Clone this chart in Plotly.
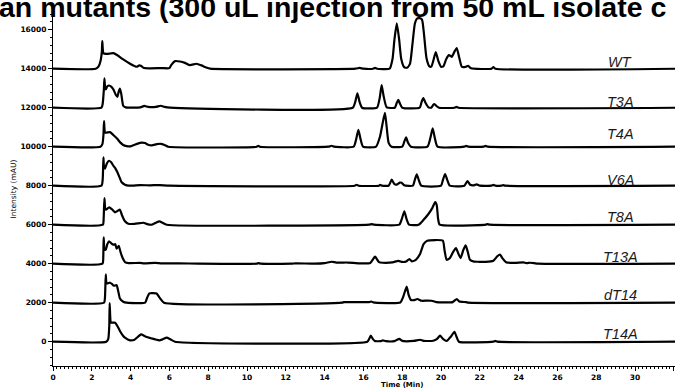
import plotly.graph_objects as go

# Stacked HPLC chromatograms: retention time (min) and detector intensity (mAU)
# relative to each trace's own baseline.
samples = ["WT", "T3A", "T4A", "V6A", "T8A", "T13A", "dT14", "T14A"]
offsets = [14000, 12000, 10000, 8000, 6000, 4000, 2000, 0]
label_lift = [360, 300, 650, 290, 370, 340, 380, 420]

WT_t = [0, 2.2, 2.35, 2.45, 2.52, 2.54, 2.6, 2.75, 2.95, 3.11, 3.3, 3.62, 3.97, 4.31, 4.45, 4.55, 4.66, 5.0, 5.6, 6.0, 6.1, 6.29, 6.55, 6.8, 7.06, 7.4, 7.65, 7.9, 8.1,
        15.6, 15.8, 16.0, 16.5, 16.6, 16.7,
        17.35, 17.5, 17.6, 17.72, 17.84, 17.95, 18.1, 18.25, 18.4, 18.52, 18.65, 18.75, 18.9, 19.02, 19.12, 19.25, 19.4, 19.5, 19.6, 19.73, 19.86, 20.0, 20.12, 20.27, 20.41, 20.55, 20.68, 20.81, 20.93, 21.07, 21.25, 21.4, 21.55, 22.6, 22.7, 22.8, 32.2]
WT_i = [0, 0, 120, 400, 900, 1415, 790, 760, 780, 800, 700, 475, 255, 100, 170, 140, 50, 20, 30, 30, 200, 390, 370, 300, 185, 255, 170, 60, 0,
        0, 40, 0, 0, 40, 0,
        0, 500, 1500, 2320, 1500, 500, 80, 50, 250, 1200, 2300, 2560, 2590, 2520, 1800, 550, 120, 110, 400, 850, 400, 100, 120, 500, 700, 610, 850, 1060, 600, 100, 90, 150, 20, 0, 80, 0, 0]

T3A_t = [0, 2.5, 2.56, 2.62, 2.65, 2.69, 2.72, 2.8, 2.89, 3.0, 3.11, 3.25, 3.32, 3.38, 3.45, 3.52, 3.62, 3.75, 4.5, 4.71, 4.9, 5.3, 5.55, 5.75, 6.03,
         15.45, 15.58, 15.69, 15.8, 15.93, 16.7, 16.84, 16.94, 17.04, 17.2, 17.62, 17.72, 17.8, 17.88, 18.0, 18.9, 19.0, 19.09, 19.2, 19.35, 19.5, 19.6, 19.66, 19.75, 19.9, 20.7, 20.8, 20.9, 32.2]
T3A_i = [0, 0, 200, 900, 1500, 1000, 940, 1100, 1140, 1080, 940, 640, 560, 800, 975, 700, 100, 20, 20, 90, 40, 40, 100, 40, 0,
         0, 300, 740, 300, 0, 0, 500, 1160, 600, 20, 0, 250, 400, 220, 0, 0, 300, 490, 250, 20, 0, 150, 190, 100, 0, 0, 40, 0, 0]

T4A_t = [0, 2.45, 2.55, 2.6, 2.63, 2.68, 2.75, 2.94, 3.11, 3.3, 3.45, 3.6, 3.8, 4.0, 4.2, 4.48, 4.74, 4.9, 5.09, 5.35, 5.55, 5.75, 5.94, 10.5, 10.58, 10.66, 14.2, 14.36, 14.5,
         15.5, 15.63, 15.74, 15.85, 15.98, 16.65, 16.85, 17.0, 17.11, 17.2, 17.3, 17.45, 18.0, 18.12, 18.2, 18.3, 18.45, 19.3, 19.45, 19.57, 19.68, 19.82, 21.2, 21.3, 21.4, 22.2, 22.3, 22.4, 32.2]
T4A_i = [0, 0, 150, 600, 1310, 730, 720, 750, 600, 420, 235, 100, 30, 20, 100, 200, 190, 100, 70, 130, 150, 90, 0, 0, 50, 0, 0, 50, 0,
         0, 400, 870, 400, 0, 0, 500, 1250, 1730, 1000, 200, 0, 0, 300, 480, 200, 0, 0, 450, 940, 450, 0, 0, 40, 0, 0, 40, 0, 0]

V6A_t = [0, 2.5, 2.56, 2.6, 2.63, 2.68, 2.78, 2.89, 3.0, 3.11, 3.22, 3.32, 3.45, 3.54, 3.71, 3.9, 4.5, 5.0, 5.5, 6.0,
         15.55, 15.65, 15.75, 16.8, 16.86, 16.95, 17.3, 17.46, 17.6, 17.75, 17.88, 17.97, 18.1, 18.55, 18.65, 18.75, 18.85, 18.98, 20.0, 20.1, 20.21, 20.32, 20.45,
         21.2, 21.36, 21.5, 21.7, 21.84, 22.0, 22.6, 22.7, 22.8, 23.1, 23.2, 23.3, 32.2]
V6A_i = [0, 0, 300, 1450, 950, 880, 1150, 1280, 1200, 1025, 880, 690, 380, 175, 50, 0, 30, 20, 30, 0,
         0, 50, 0, 0, 40, 0, 0, 310, 80, 70, 160, 150, 20, 0, 300, 585, 300, 0, 0, 300, 600, 300, 0,
         0, 240, 50, 20, 70, 0, 0, 40, 0, 0, 30, 0, 0]

T8A_t = [0, 2.57, 2.61, 2.65, 2.7, 2.75, 2.89, 3.05, 3.2, 3.32, 3.45, 3.55, 3.71, 3.88, 4.2, 4.66, 4.85, 5.1, 5.3, 5.48, 5.65, 5.86,
         16.3, 16.42, 16.55, 17.85, 17.98, 18.11, 18.22, 18.35, 18.85, 19.1, 19.35, 19.55, 19.7, 19.78, 19.85, 19.93, 22.3, 22.4, 22.5, 32.2]
T8A_i = [0, 0, 300, 1370, 790, 780, 890, 780, 635, 700, 770, 500, 175, 50, 40, 100, 30, 0, 100, 175, 100, 0,
         0, 30, 0, 0, 300, 685, 300, 0, 0, 250, 550, 850, 1165, 1000, 300, 0, 0, 30, 0, 0]

T13A_t = [0, 2.55, 2.59, 2.61, 2.66, 2.72, 2.8, 2.89, 3.0, 3.11, 3.21, 3.28, 3.34, 3.39, 3.48, 3.59, 3.71, 3.9, 4.48, 4.7, 5.26, 5.6, 6.5, 7.5, 10.5, 10.6, 10.7, 12.3, 12.5, 13.5, 14.0, 14.36, 14.6, 15.2, 15.8,
          16.35, 16.6, 16.8, 17.0, 17.5, 17.8, 18.0, 18.2, 18.37, 18.5, 18.7, 18.92, 19.1, 19.29, 20.09, 20.18, 20.29, 20.45, 20.65, 20.77, 20.9, 21.01, 21.15, 21.27, 21.38, 21.49,
          21.7, 21.92, 22.3, 22.7, 22.9, 23.04, 23.15, 23.35, 23.8, 24.24, 24.4, 24.59, 24.8, 25.0, 32.2]
T13A_i = [0, 0, 300, 1350, 730, 720, 1000, 1150, 1050, 975, 1000, 770, 850, 920, 600, 290, 85, 30, 40, 20, 40, 20, 20, 0, 0, 30, 0, 0, 20, 0, 30, 100, 60, 60, 20,
          40, 360, 80, 50, 70, 150, 90, 110, 240, 120, 200, 500, 1000, 1180, 1180, 700, 200, 280, 650, 800, 500, 290, 700, 940, 600, 200,
          110, 100, 90, 150, 380, 470, 300, 80, 40, 70, 30, 50, 30, 0, 0]

dT14_t = [0, 2.63, 2.68, 2.72, 2.76, 2.85, 2.94, 3.05, 3.14, 3.28, 3.36, 3.45, 3.62, 3.8, 4.75, 4.85, 4.97, 5.15, 5.34, 5.5, 5.72,
          14.9, 15.0, 16.3, 16.4, 16.5, 17.9, 18.05, 18.23, 18.33, 18.45, 18.6, 18.78, 19.0, 19.3, 19.52, 19.75, 20.6, 20.81, 20.95, 21.1, 21.3, 21.4, 32.2]
dT14_i = [0, 0, 300, 1450, 990, 1000, 1025, 950, 870, 900, 600, 220, 50, 0, 0, 250, 480, 490, 470, 250, 0,
          0, 30, 30, 60, 20, 10, 300, 820, 400, 140, 130, 190, 100, 110, 100, 30, 30, 190, 60, 40, 30, 0, 0]

T14A_t = [0, 2.75, 2.85, 2.9, 2.92, 2.96, 2.99, 3.2, 3.35, 3.45, 3.6, 3.71, 3.97, 4.2, 4.54, 4.7, 4.83, 5.05, 5.26, 5.48, 5.65, 5.86, 6.05, 6.29,
          16.2, 16.3, 16.38, 16.5, 16.6, 16.9, 17.0, 17.15, 17.6, 17.85, 18.0, 18.6, 18.92, 19.1, 19.6, 19.8, 19.95, 20.1, 20.29, 20.5, 20.69, 20.82, 20.92, 22.7, 22.8, 22.9, 32.2]
T14A_i = [0, 0, 150, 800, 1985, 1100, 975, 975, 750, 550, 320, 205, 70, 100, 375, 300, 240, 180, 120, 70, 120, 205, 120, 0,
          0, 150, 310, 120, 30, 30, 70, 30, 30, 140, 40, 40, 100, 40, 50, 150, 310, 150, 35, 250, 510, 200, 0, 0, 40, 0, 0]

times = [WT_t, T3A_t, T4A_t, V6A_t, T8A_t, T13A_t, dT14_t, T14A_t]
intens = [WT_i, T3A_i, T4A_i, V6A_i, T8A_i, T13A_i, dT14_i, T14A_i]

fig = go.Figure()
for name, t, i, off in zip(samples, times, intens, offsets):
    fig.add_trace(go.Scatter(
        x=t, y=[v + off for v in i], mode="lines", name=name,
        line=dict(color="black", width=2.2, shape="spline", smoothing=0.5),
        showlegend=False, hoverinfo="skip"))

# Sample labels at the right-hand end of each trace
for name, off, lift in zip(samples, offsets, label_lift):
    fig.add_annotation(x=29.23, y=off + lift, text=name, showarrow=False,
                       xanchor="center", yanchor="middle",
                       font=dict(family="Liberation Sans, Arial", size=14.5,
                                 color="#1a1a1a", style="italic"))

# Title (runs past the page edges)
fig.add_annotation(xref="paper", yref="paper", x=-0.09, y=1.014,
                   xanchor="left", yanchor="middle", showarrow=False,
                   text="an mutants (300 uL injection from 50 mL isolate c",
                   font=dict(family="Liberation Sans, Arial", size=28.5,
                             color="black", weight="bold"))

# x-axis title
fig.add_annotation(xref="paper", yref="paper", x=(402 - 53) / 622, y=-0.036,
                   xanchor="center", yanchor="top", showarrow=False,
                   text="Time (Min)",
                   font=dict(family="DejaVu Sans", size=7, color="black",
                             weight="bold"))

tickfont = dict(family="DejaVu Sans", size=7.5, color="black", weight="bold")
fig.update_xaxes(range=[0, 32.06], tickmode="linear", tick0=0, dtick=2,
                 ticks="outside", ticklen=4, tickwidth=1, tickcolor="black",
                 showline=True, linecolor="black", linewidth=1,
                 showgrid=False, zeroline=False, tickfont=tickfont,
                 minor=dict(dtick=0.2, ticks="outside", ticklen=2,
                            tickcolor="black", showgrid=False))
fig.update_yaxes(range=[-1246, 16908], tickmode="linear", tick0=0, dtick=2000,
                 tickformat="d",
                 ticks="outside", ticklen=4, tickwidth=1, tickcolor="black",
                 showline=True, linecolor="black", linewidth=1,
                 showgrid=False, zeroline=False, tickfont=tickfont,
                 title=dict(text="Intensity (mAU)", standoff=2,
                            font=dict(family="DejaVu Sans", size=7.5,
                                      color="black")),
                 minor=dict(dtick=400, ticks="outside", ticklen=2,
                            tickcolor="black", showgrid=False))

fig.update_layout(width=675, height=388,
                  margin=dict(l=53, r=0, t=12, b=22),
                  plot_bgcolor="white", paper_bgcolor="white")

fig.write_html("out.html")
